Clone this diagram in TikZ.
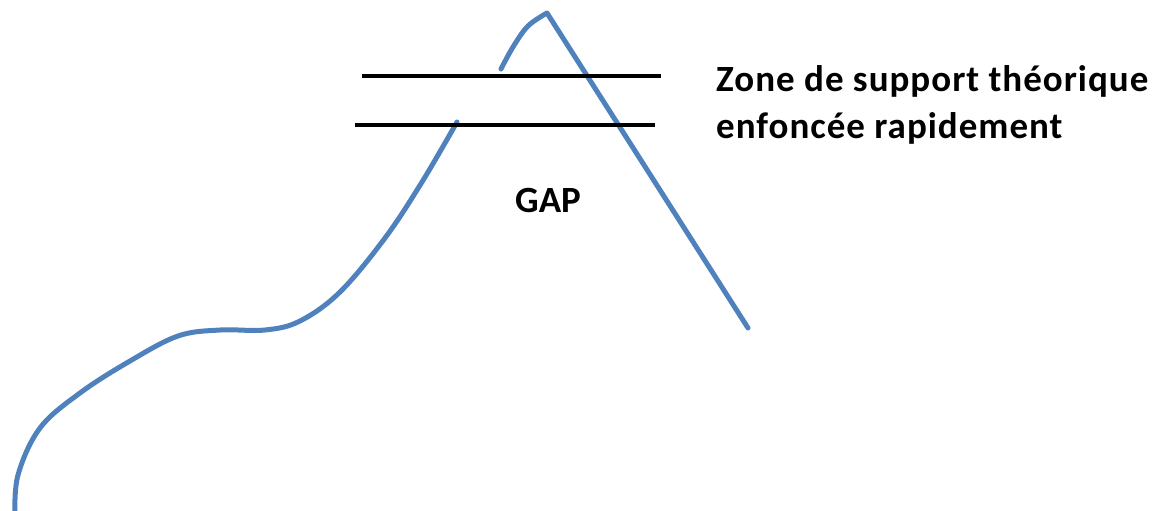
\documentclass[tikz,border=0pt]{standalone}
\usepackage{fontspec}
\setmainfont{Carlito}
\definecolor{trendblue}{RGB}{79,129,189}

\begin{document}
\begin{tikzpicture}[x=1pt,y=-1pt,
  every node/.style={font=\fontsize{37}{44}\selectfont\bfseries,inner sep=0pt},
  zonetext/.style={font=\fontsize{37}{44}\selectfont\bfseries\addfontfeatures{LetterSpace=2.7}},
  trend/.style={draw=trendblue,line width=5pt,line cap=round,line join=round},
  level/.style={draw=black,line width=4.5pt}]
\useasboundingbox (0,0) rectangle (1168,511);
% price curve
\draw[trend] plot[smooth,tension=0.6] coordinates {(15,516) (18,475) (40,428) (80,393) (130,361) (178,336) (220,330) (265,330) (300,321) (340,292) (385,238) (422,182) (457,122)};
\draw[trend] plot[smooth,tension=0.6] coordinates {(501,69) (513,47) (528,26) (547,13)} -- (748,328);
% support zone
\draw[level] (362,76) -- (661,76);
\draw[level] (355,125) -- (655,125);
\node[zonetext,anchor=base west] (zone1) at (716,92) {Zone de support théorique};
\node[zonetext,anchor=base west] (zone2) at (716,138) {enfoncée rapidement};
\node[anchor=base west] (gap) at (515,212) {GAP};
\end{tikzpicture}
\end{document}
